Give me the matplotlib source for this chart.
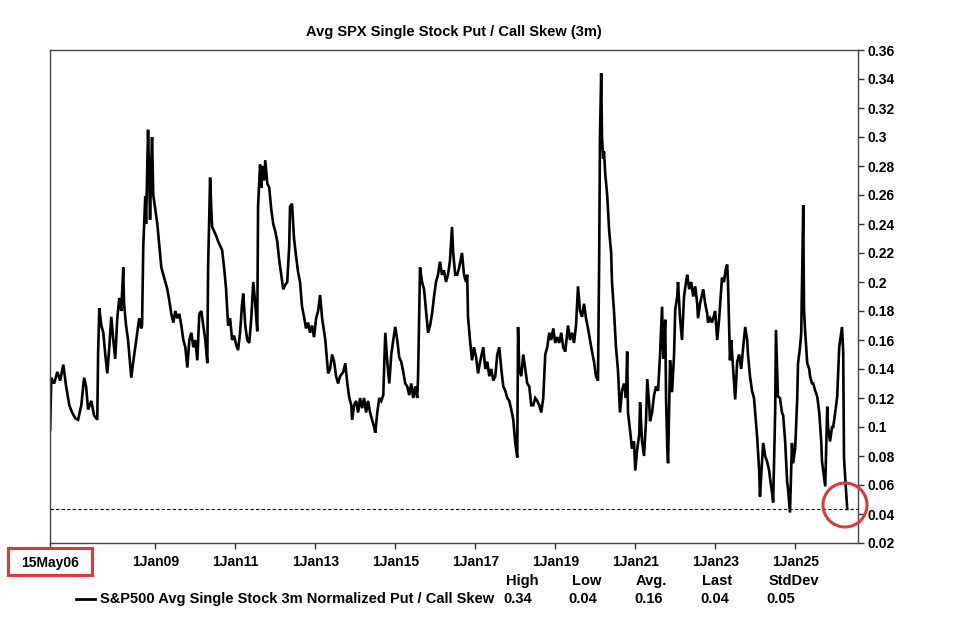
import matplotlib
matplotlib.use("Agg")
import matplotlib.pyplot as plt
from matplotlib.patches import Rectangle, Ellipse
from matplotlib.lines import Line2D
import pandas as pd
import numpy as np

plt.rcParams['font.family'] = ['Liberation Sans', 'DejaVu Sans']
plt.rcParams['font.weight'] = 'bold'

title = "Avg SPX Single Stock Put / Call Skew (3m)"
series_name = "S&P500 Avg Single Stock 3m Normalized Put / Call Skew"

# decimal-year positions and skew values
years = [
    2006.37, 2006.40, 2006.47, 2006.55, 2006.62, 2006.70, 2006.77, 2006.85, 2006.92, 2007.00,
    2007.07, 2007.15, 2007.22, 2007.27, 2007.32, 2007.40, 2007.47, 2007.55, 2007.57, 2007.60,
    2007.65, 2007.70, 2007.75, 2007.80, 2007.85, 2007.90, 2007.95, 2008.00, 2008.05, 2008.10,
    2008.15, 2008.20, 2008.22, 2008.27, 2008.32, 2008.40, 2008.45, 2008.50, 2008.55, 2008.60,
    2008.65, 2008.67, 2008.70, 2008.75, 2008.77, 2008.80, 2008.82, 2008.85, 2008.87, 2008.90,
    2008.92, 2008.95, 2009.00, 2009.05, 2009.10, 2009.15, 2009.20, 2009.25, 2009.30, 2009.35,
    2009.40, 2009.45, 2009.50, 2009.55, 2009.60, 2009.65, 2009.70, 2009.75, 2009.80, 2009.85,
    2009.90, 2009.95, 2010.00, 2010.05, 2010.10, 2010.15, 2010.20, 2010.25, 2010.30, 2010.32,
    2010.37, 2010.40, 2010.42, 2010.47, 2010.52, 2010.57, 2010.62, 2010.67, 2010.72, 2010.77,
    2010.82, 2010.87, 2010.92, 2010.97, 2011.02, 2011.07, 2011.12, 2011.17, 2011.20, 2011.25,
    2011.30, 2011.35, 2011.40, 2011.45, 2011.50, 2011.55, 2011.57, 2011.62, 2011.65, 2011.67,
    2011.72, 2011.75, 2011.80, 2011.85, 2011.90, 2011.95, 2012.00, 2012.05, 2012.10, 2012.15,
    2012.20, 2012.25, 2012.30, 2012.35, 2012.37, 2012.42, 2012.47, 2012.52, 2012.57, 2012.62,
    2012.67, 2012.72, 2012.77, 2012.82, 2012.87, 2012.92, 2012.97, 2013.02, 2013.07, 2013.12,
    2013.17, 2013.25, 2013.32, 2013.37, 2013.42, 2013.47, 2013.52, 2013.57, 2013.62, 2013.70,
    2013.75, 2013.80, 2013.85, 2013.90, 2013.92, 2013.97, 2014.02, 2014.07, 2014.12, 2014.17,
    2014.22, 2014.27, 2014.32, 2014.37, 2014.42, 2014.47, 2014.50, 2014.55, 2014.60, 2014.65,
    2014.70, 2014.75, 2014.80, 2014.85, 2014.90, 2014.95, 2015.00, 2015.05, 2015.10, 2015.15,
    2015.20, 2015.25, 2015.30, 2015.35, 2015.40, 2015.45, 2015.50, 2015.55, 2015.57, 2015.62,
    2015.67, 2015.72, 2015.77, 2015.82, 2015.87, 2015.92, 2015.97, 2016.02, 2016.07, 2016.12,
    2016.17, 2016.22, 2016.27, 2016.32, 2016.37, 2016.42, 2016.45, 2016.50, 2016.55, 2016.60,
    2016.67, 2016.72, 2016.77, 2016.80, 2016.82, 2016.87, 2016.92, 2016.97, 2017.02, 2017.07,
    2017.12, 2017.20, 2017.25, 2017.30, 2017.35, 2017.40, 2017.45, 2017.50, 2017.55, 2017.60,
    2017.65, 2017.70, 2017.75, 2017.80, 2017.85, 2017.90, 2017.95, 2018.00, 2018.05, 2018.07,
    2018.10, 2018.15, 2018.20, 2018.25, 2018.30, 2018.35, 2018.40, 2018.45, 2018.50, 2018.55,
    2018.60, 2018.65, 2018.70, 2018.75, 2018.80, 2018.85, 2018.90, 2018.95, 2019.00, 2019.05,
    2019.10, 2019.15, 2019.20, 2019.25, 2019.30, 2019.32, 2019.37, 2019.42, 2019.47, 2019.52,
    2019.57, 2019.62, 2019.67, 2019.72, 2019.77, 2019.82, 2019.87, 2019.92, 2019.97, 2020.02,
    2020.07, 2020.10, 2020.12, 2020.15, 2020.17, 2020.20, 2020.22, 2020.25, 2020.30, 2020.35,
    2020.40, 2020.42, 2020.47, 2020.52, 2020.57, 2020.62, 2020.67, 2020.72, 2020.77, 2020.80,
    2020.82, 2020.87, 2020.92, 2020.97, 2021.00, 2021.05, 2021.10, 2021.12, 2021.17, 2021.22,
    2021.27, 2021.30, 2021.35, 2021.37, 2021.42, 2021.47, 2021.52, 2021.57, 2021.62, 2021.67,
    2021.70, 2021.75, 2021.77, 2021.80, 2021.82, 2021.87, 2021.92, 2021.97, 2022.00, 2022.05,
    2022.07, 2022.12, 2022.17, 2022.22, 2022.27, 2022.30, 2022.35, 2022.40, 2022.45, 2022.50,
    2022.55, 2022.57, 2022.62, 2022.70, 2022.75, 2022.80, 2022.82, 2022.87, 2022.92, 2023.00,
    2023.05, 2023.10, 2023.17, 2023.22, 2023.27, 2023.30, 2023.32, 2023.37, 2023.40, 2023.45,
    2023.50, 2023.55, 2023.60, 2023.65, 2023.70, 2023.75, 2023.80, 2023.82, 2023.87, 2023.92,
    2023.97, 2024.00, 2024.05, 2024.10, 2024.12, 2024.17, 2024.20, 2024.25, 2024.30, 2024.35,
    2024.37, 2024.42, 2024.45, 2024.50, 2024.52, 2024.57, 2024.62, 2024.67, 2024.70, 2024.75,
    2024.80, 2024.82, 2024.87, 2024.92, 2024.95, 2025.00, 2025.05, 2025.07, 2025.12, 2025.15,
    2025.17, 2025.20, 2025.22, 2025.25, 2025.30, 2025.35, 2025.37, 2025.42, 2025.45, 2025.50,
    2025.55, 2025.60, 2025.65, 2025.67, 2025.72, 2025.75, 2025.80, 2025.82, 2025.87, 2025.92,
    2025.95, 2026.00, 2026.05, 2026.10, 2026.15, 2026.17, 2026.20, 2026.22, 2026.25, 2026.30,
]
skew = [
    0.098, 0.134, 0.130, 0.138, 0.132, 0.143, 0.128, 0.115, 0.110, 0.106,
    0.105, 0.115, 0.134, 0.128, 0.112, 0.118, 0.108, 0.105, 0.150, 0.182,
    0.170, 0.165, 0.150, 0.137, 0.155, 0.176, 0.160, 0.147, 0.175, 0.189,
    0.180, 0.210, 0.185, 0.170, 0.160, 0.134, 0.145, 0.155, 0.165, 0.175,
    0.168, 0.170, 0.224, 0.259, 0.240, 0.280, 0.305, 0.270, 0.243, 0.280,
    0.300, 0.260, 0.250, 0.240, 0.225, 0.210, 0.205, 0.200, 0.195, 0.187,
    0.178, 0.172, 0.180, 0.175, 0.178, 0.170, 0.160, 0.155, 0.141, 0.160,
    0.165, 0.155, 0.160, 0.146, 0.178, 0.180, 0.170, 0.160, 0.144, 0.210,
    0.272, 0.250, 0.238, 0.235, 0.232, 0.228, 0.225, 0.222, 0.210, 0.195,
    0.170, 0.175, 0.160, 0.163, 0.157, 0.153, 0.165, 0.185, 0.192, 0.170,
    0.160, 0.158, 0.175, 0.200, 0.185, 0.166, 0.252, 0.281, 0.265, 0.280,
    0.270, 0.284, 0.268, 0.265, 0.250, 0.240, 0.235, 0.228, 0.215, 0.205,
    0.195, 0.198, 0.200, 0.225, 0.252, 0.254, 0.230, 0.218, 0.207, 0.200,
    0.183, 0.176, 0.168, 0.172, 0.165, 0.170, 0.162, 0.175, 0.180, 0.191,
    0.175, 0.160, 0.137, 0.140, 0.150, 0.145, 0.135, 0.130, 0.135, 0.138,
    0.144, 0.130, 0.120, 0.115, 0.105, 0.115, 0.118, 0.110, 0.120, 0.113,
    0.120, 0.110, 0.118, 0.110, 0.105, 0.100, 0.096, 0.110, 0.120, 0.118,
    0.122, 0.165, 0.145, 0.130, 0.150, 0.160, 0.169, 0.160, 0.148, 0.145,
    0.138, 0.130, 0.128, 0.122, 0.130, 0.120, 0.128, 0.120, 0.134, 0.210,
    0.200, 0.195, 0.180, 0.165, 0.170, 0.178, 0.190, 0.200, 0.205, 0.214,
    0.205, 0.208, 0.200, 0.205, 0.215, 0.238, 0.220, 0.205, 0.205, 0.210,
    0.220, 0.205, 0.200, 0.205, 0.176, 0.160, 0.146, 0.155, 0.148, 0.137,
    0.145, 0.155, 0.140, 0.145, 0.135, 0.140, 0.132, 0.135, 0.150, 0.155,
    0.140, 0.128, 0.125, 0.120, 0.118, 0.112, 0.105, 0.089, 0.079, 0.169,
    0.140, 0.135, 0.150, 0.140, 0.130, 0.128, 0.115, 0.115, 0.120, 0.118,
    0.115, 0.110, 0.120, 0.150, 0.155, 0.165, 0.160, 0.168, 0.158, 0.162,
    0.158, 0.165, 0.155, 0.152, 0.165, 0.170, 0.160, 0.165, 0.158, 0.170,
    0.197, 0.180, 0.176, 0.185, 0.175, 0.168, 0.160, 0.152, 0.145, 0.135,
    0.132, 0.217, 0.300, 0.344, 0.300, 0.285, 0.290, 0.275, 0.260, 0.235,
    0.220, 0.200, 0.180, 0.155, 0.139, 0.110, 0.125, 0.130, 0.120, 0.152,
    0.110, 0.098, 0.085, 0.090, 0.070, 0.085, 0.095, 0.117, 0.090, 0.080,
    0.105, 0.133, 0.115, 0.104, 0.110, 0.122, 0.128, 0.125, 0.150, 0.183,
    0.147, 0.174, 0.120, 0.086, 0.075, 0.146, 0.124, 0.150, 0.181, 0.190,
    0.200, 0.175, 0.160, 0.190, 0.200, 0.205, 0.195, 0.200, 0.190, 0.197,
    0.185, 0.175, 0.185, 0.195, 0.185, 0.178, 0.172, 0.175, 0.172, 0.180,
    0.160, 0.175, 0.203, 0.200, 0.210, 0.212, 0.200, 0.146, 0.160, 0.140,
    0.119, 0.145, 0.150, 0.140, 0.155, 0.169, 0.160, 0.150, 0.135, 0.125,
    0.120, 0.110, 0.093, 0.070, 0.052, 0.075, 0.089, 0.080, 0.076, 0.070,
    0.065, 0.055, 0.048, 0.110, 0.167, 0.121, 0.120, 0.110, 0.108, 0.090,
    0.062, 0.058, 0.041, 0.089, 0.075, 0.086, 0.120, 0.144, 0.155, 0.165,
    0.200, 0.253, 0.180, 0.165, 0.144, 0.140, 0.135, 0.130, 0.130, 0.125,
    0.121, 0.110, 0.090, 0.076, 0.065, 0.059, 0.114, 0.100, 0.090, 0.100,
    0.100, 0.110, 0.121, 0.155, 0.165, 0.169, 0.152, 0.079, 0.065, 0.0435,
]

x_tick_dates = ["2006-05-15", "2009-01-01", "2011-01-01", "2013-01-01", "2015-01-01",
                "2017-01-01", "2019-01-01", "2021-01-01", "2023-01-01", "2025-01-01"]
x_tick_labels = ["15May06", "1Jan09", "1Jan11", "1Jan13", "1Jan15",
                 "1Jan17", "1Jan19", "1Jan21", "1Jan23", "1Jan25"]
y_ticks = [0.02, 0.04, 0.06, 0.08, 0.10, 0.12, 0.14, 0.16, 0.18, 0.20,
           0.22, 0.24, 0.26, 0.28, 0.30, 0.32, 0.34, 0.36]
stat_names = ["High", "Low", "Avg.", "Last", "StdDev"]
stat_values = ["0.34", "0.04", "0.16", "0.04", "0.05"]


def dec_to_date(y):
    base = int(y)
    return pd.Timestamp(year=base, month=1, day=1) + pd.Timedelta(days=(y - base) * 365.25)


dates = [dec_to_date(y) for y in years]

W, H = 965, 629
fig = plt.figure(figsize=(W / 100, H / 100), dpi=100)
ax = fig.add_axes([50 / W, 1 - 543 / H, 808 / W, 493 / H])

ax.plot(dates, skew, color='black', lw=1.9, solid_joinstyle='miter')
ax.axhline(skew[-1], color='black', lw=0.8, ls=(0, (3, 2)))

ax.set_xlim(pd.Timestamp("2006-05-15"), dec_to_date(2026.57))
ax.set_ylim(0.02, 0.36)

ax.yaxis.tick_right()
ax.set_yticks(y_ticks)
ax.set_yticklabels([f"{v:g}" for v in y_ticks])
ax.set_xticks([pd.Timestamp(d) for d in x_tick_dates])
ax.set_xticklabels(x_tick_labels)
ax.tick_params(axis='both', which='both', direction='out', length=4, width=1,
               labelsize=10, colors='#333333', labelcolor='black')
ax.tick_params(axis='x', pad=5)
ax.tick_params(axis='y', pad=3)
for lab in ax.get_xticklabels() + ax.get_yticklabels():
    lab.set_fontweight('bold')
for s in ax.spines.values():
    s.set_color('#444444')
    s.set_linewidth(1)

ax.set_title(title, fontsize=10.5, fontweight='bold', pad=10)

# legend and stats
fig.add_artist(Line2D([76 / W, 95 / W], [1 - 599 / H, 1 - 599 / H], color='black', lw=2))
fig.text(100 / W, 1 - 599 / H, series_name, fontsize=10.5, fontweight='bold', va='center', ha='left')
name_x = [522, 587, 651, 717, 794]
val_x = [503, 568, 634, 700, 766]
for n, v, nx, vx in zip(stat_names, stat_values, name_x, val_x):
    fig.text(nx / W, 1 - 581 / H, n, fontsize=10.5, fontweight='bold', va='center', ha='center')
    fig.text(vx / W, 1 - 599 / H, v, fontsize=10.5, fontweight='bold', va='center', ha='left')

# highlight annotations
red = '#d83b3b'
fig.add_artist(Rectangle((8 / W, 1 - 575 / H), 84 / W, 27 / H, transform=fig.transFigure,
                         fill=False, edgecolor=red, lw=2.2))
fig.add_artist(Ellipse((845 / W, 1 - 505 / H), 44 / W, 44 / H, transform=fig.transFigure,
                       fill=False, edgecolor=red, lw=2.2))

fig.savefig("out.png", dpi=100, facecolor='white')
